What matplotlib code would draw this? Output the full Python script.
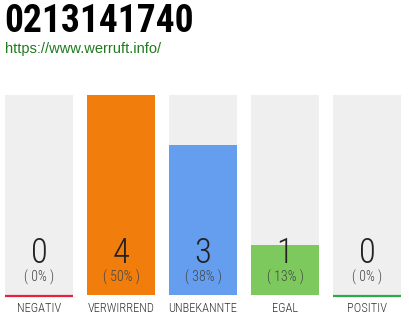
import matplotlib
matplotlib.use("Agg")
import matplotlib.pyplot as plt
from matplotlib import font_manager

# Chart content
title = "0213141740"
url = "https://www.werruft.info/"
categories = ["NEGATIV", "VERWIRREND", "UNBEKANNTE", "EGAL", "POSITIV"]
counts = [0, 4, 3, 1, 0]
percents = [0, 50, 38, 13, 0]

bar_colors = ["#EFEFEF", "#F07D0C", "#659DEF", "#7DC95E", "#EFEFEF"]
base_colors = ["#E8203A", None, None, None, "#2BAA4A"]
track_color = "#EFEFEF"

available = {f.name for f in font_manager.fontManager.ttflist}


def pick(*names):
    for n in names:
        if n in available:
            return n
    return "DejaVu Sans"


narrow = pick("Roboto Condensed", "Liberation Sans Narrow", "Open Sans Condensed", "DejaVu Sans Condensed")
headline = pick("Liberation Sans Narrow", "Roboto Condensed", "DejaVu Sans Condensed")
plain = pick("Liberation Sans", "Arial", "DejaVu Sans")

W, H = 410, 320
fig = plt.figure(figsize=(W / 100, H / 100), dpi=100)
fig.patch.set_facecolor("white")

# Header
fig.text(4 / W, 1 - 21 / H, title, ha="left", va="center", fontsize=27,
         fontweight="bold", family=[headline, "DejaVu Sans"], color="#000000")
fig.text(5 / W, 1 - 49 / H, url, ha="left", va="center", fontsize=10.5,
         family=[plain, "DejaVu Sans"], color="#1E7B1E")

# Bar area
left, right, top, bottom = 5, 401, 95, 295
ax = fig.add_axes([left / W, 1 - bottom / H, (right - left) / W, (bottom - top) / H])
width = 68 / 82
n = len(categories)
xs = list(range(n))
vmax = max(counts)

ax.bar(xs, [1] * n, width=width, color=track_color, zorder=1)
ax.bar(xs, [c / vmax for c in counts], width=width, color=bar_colors, zorder=2)
for x, bc in zip(xs, base_colors):
    if bc:
        ax.plot([x - width / 2, x + width / 2], [-0.004, -0.004], color=bc, lw=1.6,
                solid_capstyle="butt", zorder=3, clip_on=False)

for x, c, p, cat in zip(xs, counts, percents, categories):
    ax.text(x, 0.2075, str(c), ha="center", va="center", fontsize=25,
            fontweight="ultralight", family=[narrow, "DejaVu Sans"], color="#222222", zorder=4)
    ax.text(x, 0.0875, f"( {p}% )", ha="center", va="center", fontsize=10,
            fontweight="ultralight", family=[narrow, "DejaVu Sans"], color="#444444", zorder=4)
    ax.text(x, -0.07, cat, ha="center", va="center", fontsize=9,
            fontweight="light", family=[narrow, "DejaVu Sans"], color="#333333", zorder=4)

ax.set_xlim(-width / 2, n - 1 + width / 2)
ax.set_ylim(0, 1)
ax.axis("off")

fig.savefig("out.png", dpi=100, facecolor="white")
